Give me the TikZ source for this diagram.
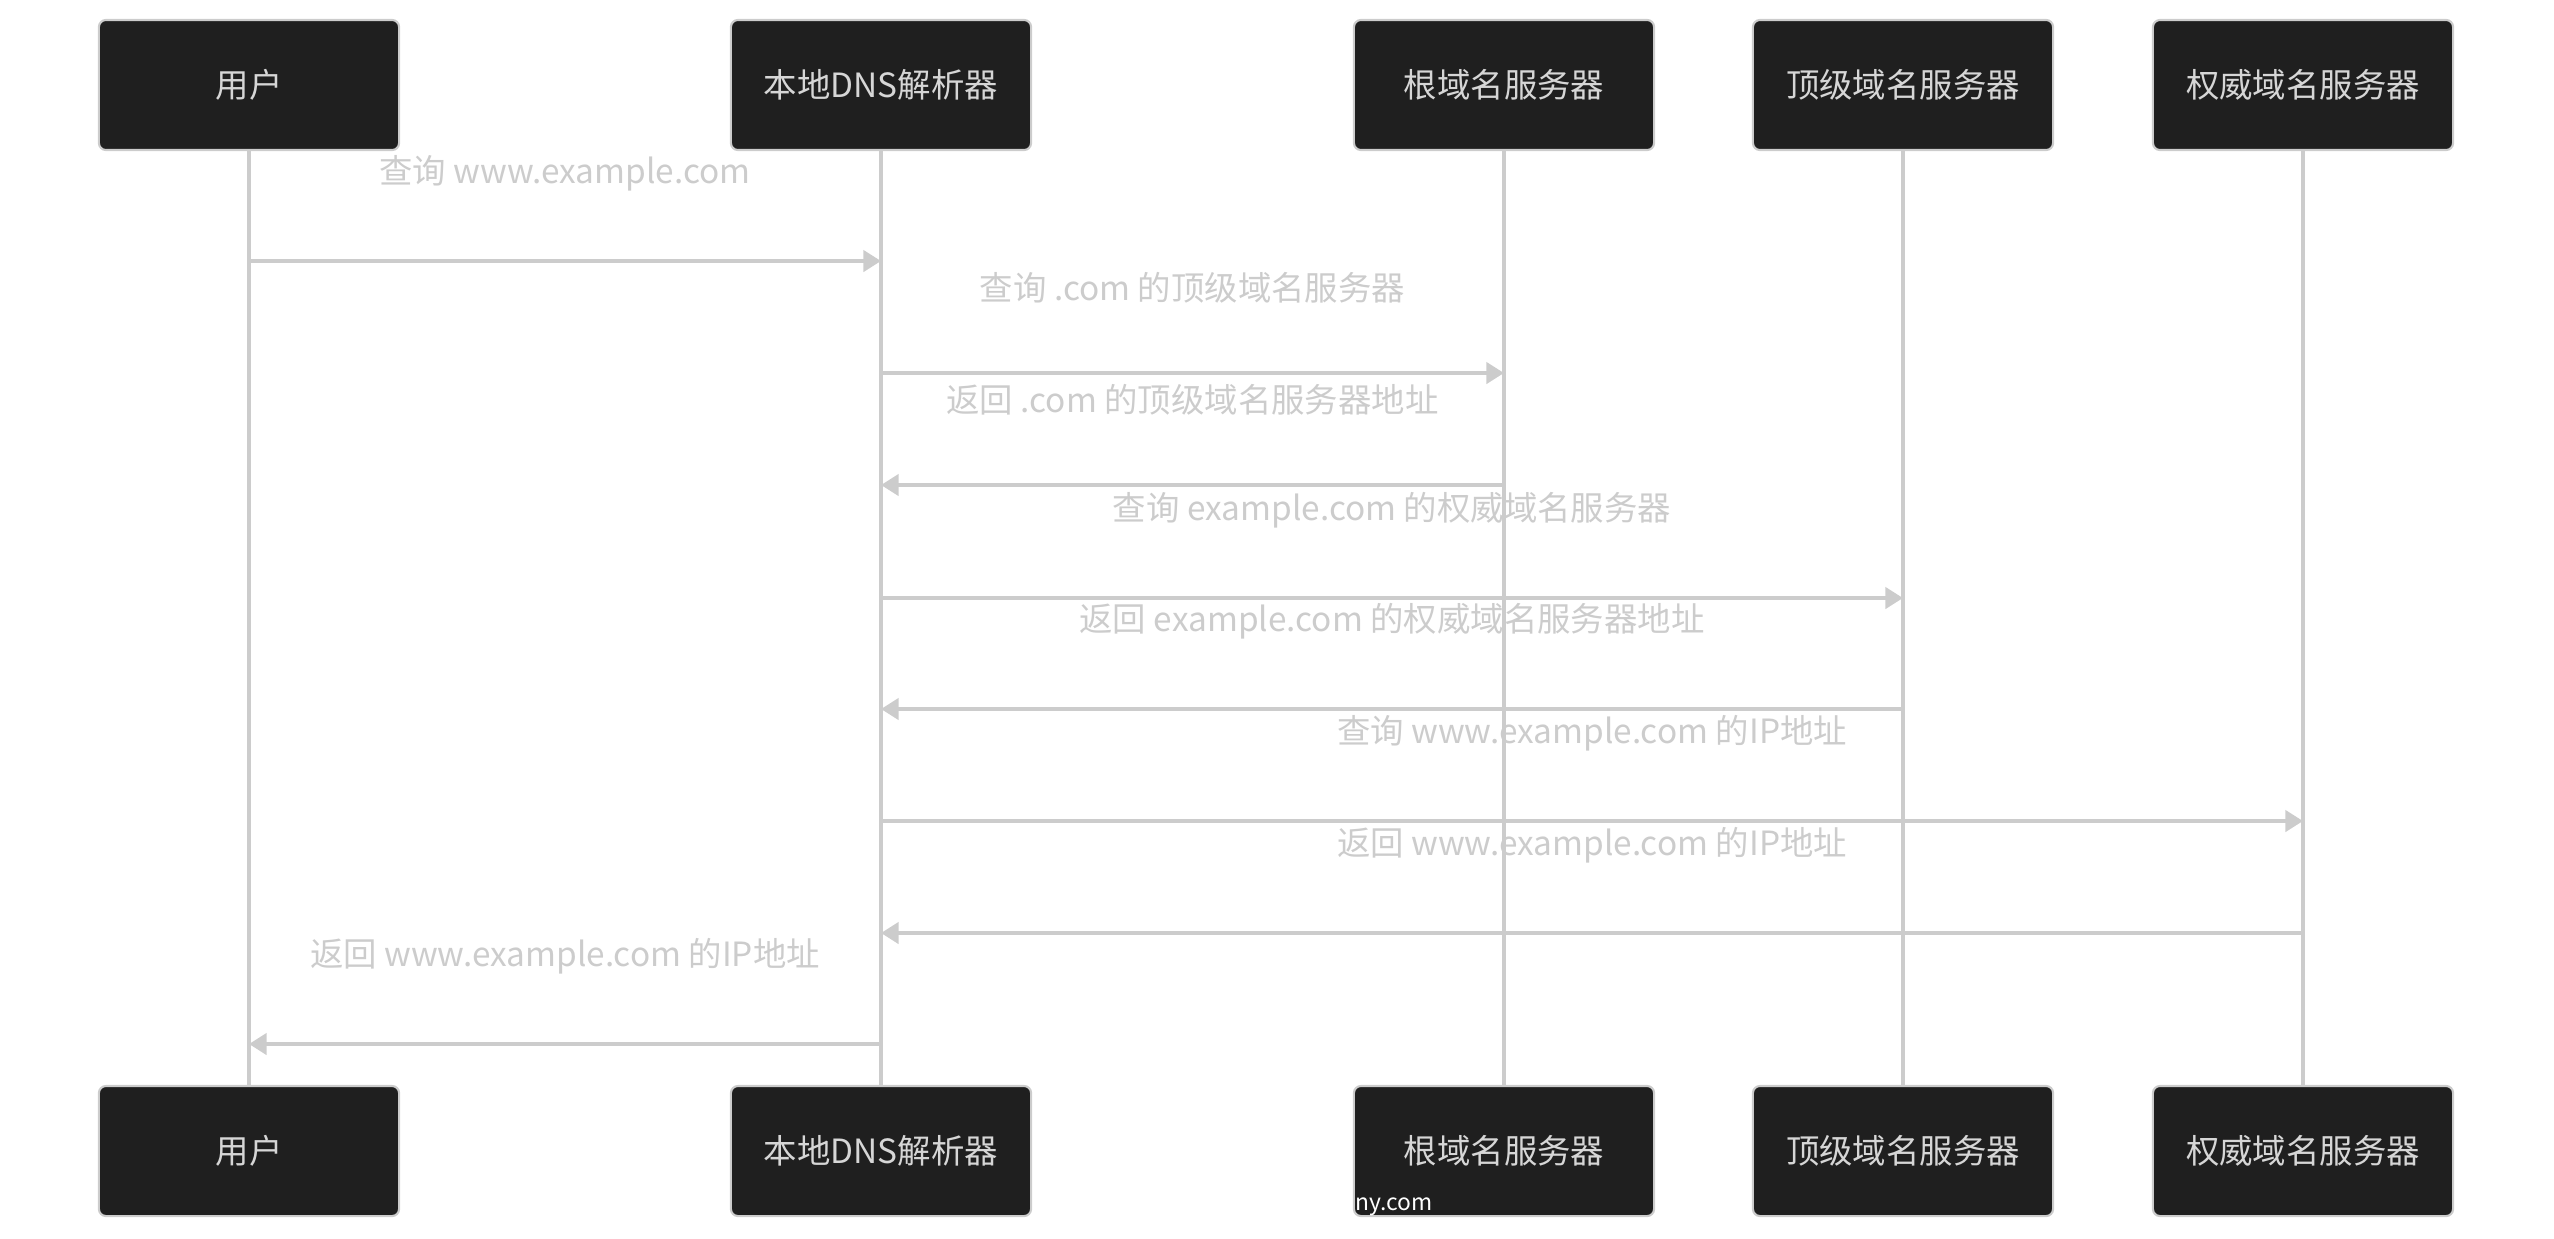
\documentclass[tikz,border=0pt]{standalone}
\usepackage{fontspec}
\setmainfont{Noto Sans CJK SC}
\usetikzlibrary{arrows.meta}

\definecolor{boxfill}{HTML}{1F1F1F}
\definecolor{linegray}{HTML}{CCCCCC}
\tikzset{
  actor/.style={draw=linegray, fill=boxfill, rounded corners=2pt, line width=0.6pt,
    minimum width=3cm, minimum height=1.3cm, text=linegray!80!white, font=\fontsize{9.5}{11}\selectfont},
  life/.style={linegray, line width=1.3pt},
  msg/.style={linegray, line width=1.1pt, -{Triangle[length=5pt,width=6pt]}},
  msglabel/.style={text=linegray, font=\fontsize{9.5}{11}\selectfont}
}

\begin{document}
\begin{tikzpicture}[x=0.01cm, y=-0.01cm]
\useasboundingbox (0,0) rectangle (2554,1238);
% lifelines first
\foreach \name/\x in {user/249, local/881, root/1504, tld/1903, auth/2303}
  \draw[life] (\x,150) -- (\x,1087);
% actors, top and bottom
\foreach \name/\x/\txt in {user/249/用户, local/881/本地DNS解析器, root/1504/根域名服务器,
                           tld/1903/顶级域名服务器, auth/2303/权威域名服务器} {
  \node[actor] (\name-top) at (\x,85) {\txt};
  \node[actor] (\name-bot) at (\x,1151) {\txt};
}
% message anchors on the lifelines
\foreach \name/\x in {user/249, local/881, root/1504, tld/1903, auth/2303}
  \foreach \i/\y in {1/261, 2/373, 3/485, 4/598, 5/709, 6/821, 7/933, 8/1044}
    \coordinate (\name-\i) at (\x,\y);
% messages
\draw[msg] (user-1) -- (local-1) node[midway, above=16pt, msglabel] {查询 www.example.com};
\draw[msg] (local-2) -- (root-2) node[midway, above=16pt, msglabel] {查询 .com 的顶级域名服务器};
\draw[msg] (root-3) -- (local-3) node[midway, above=16pt, msglabel] {返回 .com 的顶级域名服务器地址};
\draw[msg] (local-4) -- (tld-4) node[midway, above=16pt, msglabel] {查询 example.com 的权威域名服务器};
\draw[msg] (tld-5) -- (local-5) node[midway, above=16pt, msglabel] {返回 example.com 的权威域名服务器地址};
\draw[msg] (local-6) -- (auth-6) node[midway, above=16pt, msglabel] {查询 www.example.com 的IP地址};
\draw[msg] (auth-7) -- (local-7) node[midway, above=16pt, msglabel] {返回 www.example.com 的IP地址};
\draw[msg] (local-8) -- (user-8) node[midway, above=16pt, msglabel] {返回 www.example.com 的IP地址};
\node[text=white, font=\fontsize{6.5}{7}\selectfont, anchor=west, inner sep=0pt] (mark) at (1355,1207) {ny.com};
\end{tikzpicture}
\end{document}
